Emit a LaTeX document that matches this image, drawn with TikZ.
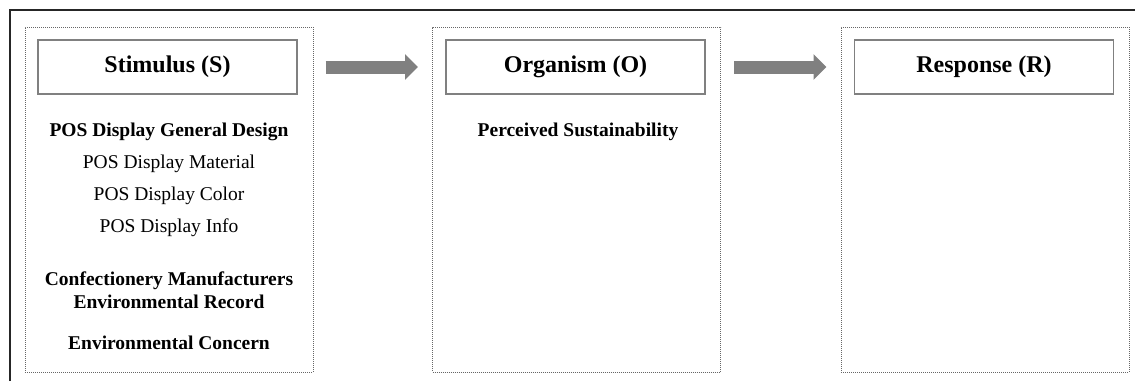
\documentclass[tikz,border=0pt]{standalone}
\usepackage{fontspec}
\setmainfont{Liberation Serif}
\usetikzlibrary{arrows.meta,positioning}

\begin{document}
\begin{tikzpicture}[x=1pt,y=-1pt,
    panel/.style={draw=black!60, line width=1pt, dash pattern=on 1pt off 1pt,
                  minimum width=288pt, minimum height=345pt, inner sep=0pt},
    headbox/.style={draw=black!50, line width=1.3pt, fill=white,
                    minimum width=259pt, minimum height=54pt, inner sep=0pt,
                    font=\fontsize{24}{28}\selectfont\bfseries},
    item/.style={font=\fontsize{19.5}{23}\selectfont, align=center, inner sep=0pt},
    bolditem/.style={item, font=\fontsize{19.5}{23}\selectfont\bfseries},
    bigarrow/.style={draw=black!55, line width=13pt, black!50,
                     -{Triangle[length=13pt,width=25pt]}}]
    \useasboundingbox (0,0) rectangle (1135,381);

    % Outer frame
    \draw[black!85, line width=1.8pt] (10,381) -- (10,10) -- (1135,10);

    % Panels
    \node[panel] (S) at (169,199.5) {};
    \node[panel] (O) at (576.5,199.5) {};
    \node[panel] (R) at (985,199.5) {};

    % Headings
    \node[headbox] (Stitle) at (167.5,67) {Stimulus (S)};
    \node[headbox] (Otitle) at (575.5,67) {Organism (O)};
    \node[headbox] (Rtitle) at (984,67) {Response (R)};

    % Arrows
    \draw[bigarrow, shorten <=12pt, shorten >=14pt] (S.east |- Stitle) -- (O.west |- Otitle);
    \draw[bigarrow, shorten <=13pt, shorten >=14pt] (O.east |- Otitle) -- (R.west |- Rtitle);

    % Stimulus items
    \node[bolditem] (s1) at (169,132) {POS Display General Design};
    \node[item] (s2) at (169,164) {POS Display Material};
    \node[item] (s3) at (169,196) {POS Display Color};
    \node[item] (s4) at (169,228) {POS Display Info};
    \node[bolditem] (s5) at (169,290.5) {Confectionery Manufacturers\\Environmental Record};
    \node[bolditem] (s6) at (169,343) {Environmental Concern};

    % Organism items
    \node[bolditem] (o1) at (578,132) {Perceived Sustainability};
\end{tikzpicture}
\end{document}
